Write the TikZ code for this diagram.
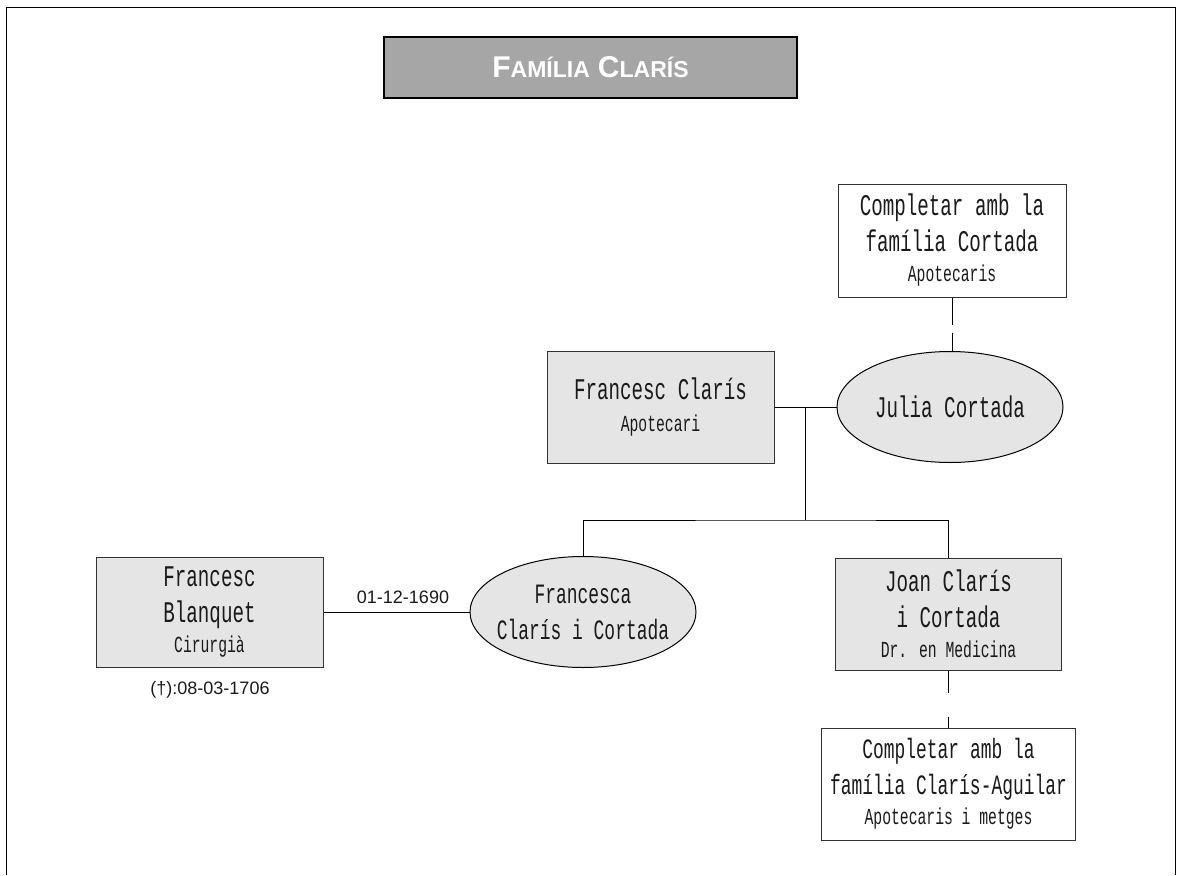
\documentclass[tikz,border=0pt]{standalone}
\usepackage{fontspec}
\setmainfont{Liberation Serif}
\newfontfamily\courf[FakeStretch=0.64]{Liberation Mono}
\newfontfamily\sansf{Liberation Sans}
\usetikzlibrary{shapes.geometric}
\definecolor{boxgray}{HTML}{E5E5E5}
\definecolor{titlegray}{HTML}{A6A6A6}
\definecolor{txt}{HTML}{1A1A1A}
\definecolor{edge}{HTML}{333333}
\newcommand{\mainsz}{\fontsize{30}{36}\selectfont}
\newcommand{\narrowsz}{\fontsize{28}{36}\selectfont}
\newcommand{\subsz}{\fontsize{23}{26}\selectfont}
\newcommand{\bigc}{\fontsize{30}{30}\selectfont}
\newcommand{\smallc}{\fontsize{23}{23}\selectfont}
\tikzset{
  person/.style={draw=edge, line width=1pt, fill=boxgray, align=center, inner sep=0pt,
    text=txt, font=\courf\mainsz},
  note/.style={person, fill=white},
  spouse/.style={ellipse, draw=black, line width=1pt, fill=boxgray, align=center,
    inner sep=-18pt, text=txt, font=\courf\mainsz, minimum width=226pt, minimum height=111pt},
  link/.style={draw=black, line width=1pt},
  topdash/.style={link, dash pattern=on 27pt off 8pt},
  botdash/.style={link, dash pattern=on 22pt off 24pt},
  datelbl/.style={font=\sansf\fontsize{18}{20}\selectfont, text=txt, inner sep=0pt},
  frame/.style={draw=black, line width=1.5pt}
}
\begin{document}
\begin{tikzpicture}[x=1pt,y=-1pt]
\useasboundingbox (0,0) rectangle (1177,875);
\draw[frame] (6.5,875) -- (6.5,7.5) -- (1175.5,7.5) -- (1175.5,875);

% title
\node[draw=black, line width=2.5pt, fill=titlegray, minimum width=413pt, minimum height=61pt,
  inner sep=0pt, text=white, font=\sansf\bfseries] (title) at (590.5,67.5)
  {{\bigc F}{\smallc AMÍLIA}\hspace{8pt}{\bigc C}{\smallc LARÍS}};

% nodes
\node[note, minimum width=228pt, minimum height=113pt] (cort) at (952,240.5)
  {Completar amb la\\família Cortada\\[-6pt]{\subsz Apotecaris}};
\node[person, minimum width=227pt, minimum height=112pt] (fc) at (660.5,407)
  {Francesc Clarís\\[-4pt]{\subsz Apotecari}};
\node[spouse] (julia) at (950,407) {Julia Cortada};
\node[spouse, font=\courf\narrowsz] (fca) at (583,612) {Francesca\\Clarís i Cortada};
\node[person, minimum width=227pt, minimum height=110pt] (blanq) at (209.5,612)
  {Francesc\\Blanquet\\[-6pt]{\subsz Cirurgià}};
\node[person, minimum width=226pt, minimum height=112pt] (joan) at (948.5,614)
  {Joan Clarís\\i Cortada\\[-6pt]{\subsz Dr. en Medicina}};
\node[note, minimum width=254pt, minimum height=112pt, font=\courf\narrowsz] (cla) at (948.5,784)
  {Completar amb la\\família Clarís-Aguilar\\[-6pt]{\subsz Apotecaris i metges}};

% labels
\node[datelbl] (wed) at (403,597) {01-12-1690};
\node[datelbl] (death) at (210,690) {(†):08-03-1706};

% connectors
\coordinate (mar) at (805,407);
\coordinate (bar) at (805,520);
\draw[link] (fc.east) -- (julia.west);
\draw[link] (mar) -- (bar);
\draw[link] (fca.north) |- (bar) -| (joan.north);
\draw[link] (blanq.east) -- (fca.west);
\draw[topdash] (cort.south) -- (cort.south |- julia.north);
\draw[botdash] (joan.south) -- (cla.north);
\end{tikzpicture}
\end{document}
